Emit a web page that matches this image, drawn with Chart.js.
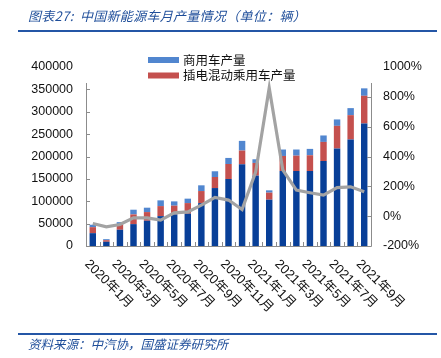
<!DOCTYPE html>
<html lang="zh">

<head>
    <meta charset="UTF-8">
    <title>中国新能源车月产量情况</title>
    <script src="https://cdn.jsdelivr.net/npm/chart.js"></script>
    <style>
        body { margin: 0; background: #fff; }
        .box { position: relative; width: 441px; height: 358px; overflow: hidden; }
        #grafico { position: absolute; left: 0; top: 0; }
        .titulo { position: absolute; left: 28px; top: 6px; font: italic 13px "Noto Sans CJK SC", "Liberation Sans"; color: #1f4e9a; white-space: nowrap; letter-spacing: 0.3px; }
        .linha { position: absolute; left: 18px; width: 419px; height: 2px; background: #2456a6; }
        .fonte { position: absolute; left: 28px; top: 334px; font: italic 12.5px "Noto Sans CJK SC", "Liberation Sans"; color: #1f4e9a; white-space: nowrap; }
    </style>
</head>

<body>
    <div class="box">
        <canvas id="grafico" width="441" height="358"></canvas>
        <div class="titulo">图表27:&nbsp; 中国新能源车月产量情况（单位：辆）</div>
        <div class="linha" style="top: 30px;"></div>
        <div class="linha" style="top: 333px;"></div>
        <div class="fonte">资料来源：中汽协，国盛证券研究所</div>
    </div>
</body>

</html>

<script>
    // dados
    const meses = ['2020年1月', '2020年2月', '2020年3月', '2020年4月', '2020年5月', '2020年6月', '2020年7月',
        '2020年8月', '2020年9月', '2020年10月', '2020年11月', '2020年12月', '2021年1月', '2021年2月',
        '2021年3月', '2021年4月', '2021年5月', '2021年6月', '2021年7月', '2021年8月', '2021年9月'];
    const puroEletrico = [28700, 9400, 36300, 48900, 56400, 66800, 70600, 72200, 95900, 129500, 149700,
        182600, 157300, 103500, 167600, 167600, 167600, 190000, 217800, 238000, 273800];
    const hibrido = [13400, 3600, 11900, 21700, 19400, 22400, 19500, 23700, 26900, 24700, 33600,
        30700, 28300, 15700, 33600, 34300, 35200, 42600, 50700, 54400, 61900];
    const comercial = [5400, 2300, 5100, 10500, 9800, 12800, 9600, 9900, 12800, 12800, 13500,
        21600, 8200, 5200, 14400, 13700, 14200, 14400, 14300, 15700, 16600];
    const crescimento = [-49, -72, -56, -11, -11, -27, 22, 29, 74, 126, 108, 45, 295, 860, 310,
        175, 157, 141, 191, 197, 164];

    const fonteNum = { family: "'Liberation Sans', 'Noto Sans CJK SC'", size: 12.5 };

    const eixosExtras = {
        id: 'eixosExtras',
        afterDraw(chart) {
            const ctx = chart.ctx;
            const area = chart.chartArea;
            const x = chart.scales.x;
            const y = chart.scales.y;
            const y1 = chart.scales.y1;
            const passo = x.getPixelForValue(1) - x.getPixelForValue(0);

            ctx.save();
            ctx.strokeStyle = '#8c8c8c';
            ctx.lineWidth = 1;
            ctx.beginPath();
            ctx.moveTo(area.left + 0.5, area.top + 16);
            ctx.lineTo(area.left + 0.5, area.bottom + 0.5);
            ctx.lineTo(area.right + 0.5, area.bottom + 0.5);
            ctx.lineTo(area.right + 0.5, area.top + 16);
            // marcas do eixo x
            for (let i = 0; i <= meses.length; i++) {
                const px = Math.round(x.getPixelForValue(0) - passo / 2 + passo * i) + 0.5;
                ctx.moveTo(px, area.bottom);
                ctx.lineTo(px, area.bottom - 4);
            }
            y.ticks.forEach(function (t) {
                const py = Math.round(y.getPixelForValue(t.value)) + 0.5;
                if (py < area.top + 16) return;
                ctx.moveTo(area.left, py);
                ctx.lineTo(area.left + 4, py);
            });
            y1.ticks.forEach(function (t) {
                const py = Math.round(y1.getPixelForValue(t.value)) + 0.5;
                if (py < area.top + 16) return;
                ctx.moveTo(area.right, py);
                ctx.lineTo(area.right - 4, py);
            });
            ctx.stroke();

            // rotulos do eixo x
            ctx.fillStyle = '#111';
            ctx.font = "13px 'Liberation Sans', 'Noto Sans CJK SC'";
            ctx.textAlign = 'left';
            ctx.textBaseline = 'middle';
            for (let i = 0; i < meses.length; i += 2) {
                ctx.save();
                ctx.translate(x.getPixelForValue(i) - 6, area.bottom + 16);
                ctx.rotate(Math.PI / 4);
                ctx.fillText(meses[i], 0, 0);
                ctx.restore();
            }

            // legenda (so aparecem dois itens no original)
            ctx.font = "12.5px 'Noto Sans CJK SC'";
            const itens = [chart.data.datasets[3], chart.data.datasets[2]];
            itens.forEach(function (ds, k) {
                const cy = 60 + k * 15.5;
                ctx.fillStyle = ds.backgroundColor;
                ctx.fillRect(148, cy - 3, 31, 6);
                ctx.fillStyle = '#111';
                ctx.fillText(ds.label, 183, cy);
            });
            ctx.restore();
        }
    };

    function criarGrafico() {
        const chartData = {
            labels: meses,
            datasets: [
                {
                    type: 'line', label: '同比增速', data: crescimento, yAxisID: 'y1',
                    borderColor: '#a3a3a3', borderWidth: 3.2, pointRadius: 0, tension: 0, order: 0
                },
                { label: '纯电动乘用车产量', data: puroEletrico, backgroundColor: '#083f98', order: 1 },
                { label: '插电混动乘用车产量', data: hibrido, backgroundColor: '#c4504e', order: 1 },
                { label: '商用车产量', data: comercial, backgroundColor: '#5186cf', order: 1 }
            ]
        };
        // ordem das barras: puro eletrico embaixo
        const barras = chartData.datasets.slice(1);
        barras.forEach(function (b) {
            b.type = 'bar';
            b.yAxisID = 'y';
            b.stack = 's';
            b.barPercentage = 0.5;
            b.categoryPercentage = 0.95;
        });

        const options = {
            responsive: false,
            animation: false,
            layout: { padding: { top: 67, bottom: 112, left: 0, right: 0 } },
            plugins: { legend: { display: false }, tooltip: { enabled: false } },
            scales: {
                x: {
                    stacked: true,
                    ticks: { display: false },
                    grid: { display: false, drawTicks: false },
                    border: { display: false },
                    afterFit: function (s) { s.height = 0; }
                },
                y: {
                    stacked: true,
                    position: 'left',
                    min: 0, max: 400000,
                    ticks: {
                        stepSize: 50000, font: fonteNum, color: '#111', padding: 13,
                        callback: function (v) { return String(v); }
                    },
                    grid: { display: false, drawTicks: false },
                    border: { display: false },
                    afterFit: function (s) { s.width = 86; }
                },
                y1: {
                    position: 'right',
                    min: -200, max: 1000,
                    ticks: {
                        stepSize: 200, font: fonteNum, color: '#111', padding: 12,
                        callback: function (v) { return v + '%'; }
                    },
                    grid: { display: false, drawTicks: false },
                    border: { display: false },
                    afterFit: function (s) { s.width = 70; }
                }
            }
        };

        new Chart(document.getElementById('grafico'), {
            type: 'bar',
            data: chartData,
            options: options,
            plugins: [eixosExtras]
        });
    }

    criarGrafico();
</script>
